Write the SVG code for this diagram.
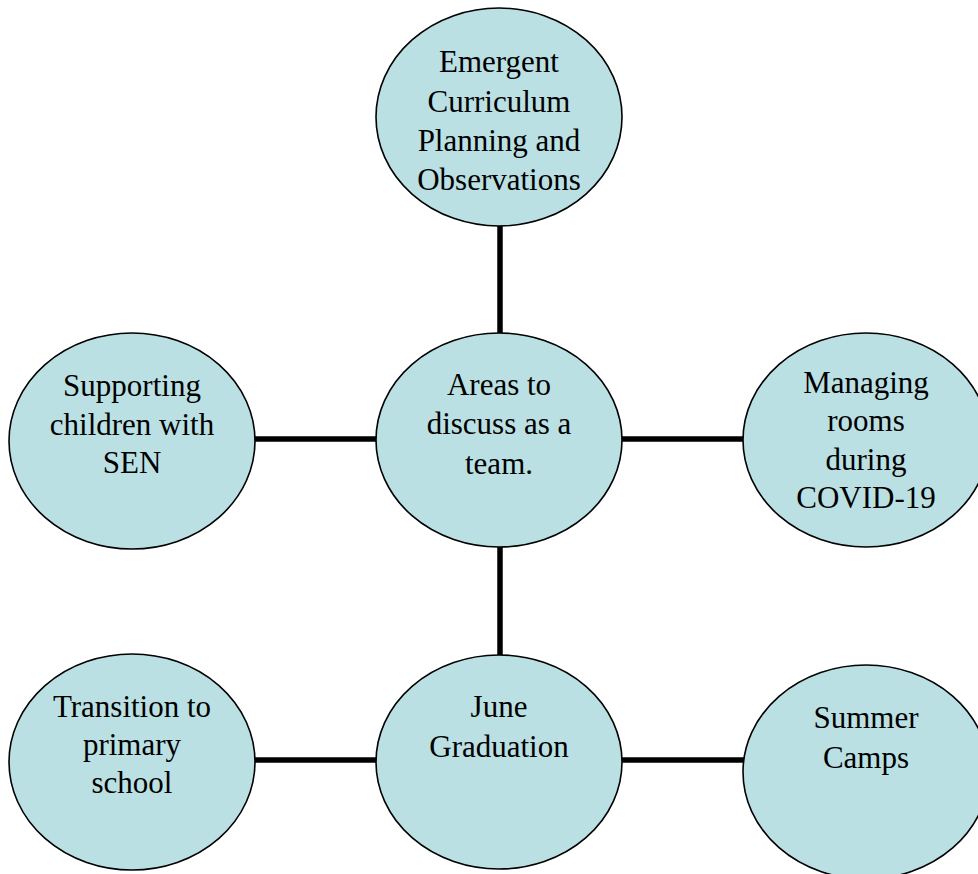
<svg xmlns="http://www.w3.org/2000/svg" width="978" height="874" viewBox="0 0 978 874">
<style>
.n{fill:#bae0e3;stroke:#000;stroke-width:1.6}
.t{font-family:"Liberation Serif","Times New Roman",serif;font-size:31px;fill:#000;text-anchor:middle}
.c{stroke:#000;stroke-width:5.5;fill:none}
</style>
<rect width="978" height="874" fill="#fff"/>
<g id="connectors">
<line class="c" x1="500" y1="225" x2="500" y2="334"/>
<line class="c" x1="255" y1="439" x2="377" y2="439"/>
<line class="c" x1="621" y1="439" x2="744" y2="439"/>
<line class="c" x1="500" y1="546" x2="500" y2="656"/>
<line class="c" x1="255" y1="760" x2="378" y2="760"/>
<line class="c" x1="621" y1="760" x2="745" y2="760"/>
</g>
<g id="node-top">
<ellipse class="n" cx="499" cy="117" rx="123" ry="109"/>
<text class="t" x="499" y="72">Emergent</text>
<text class="t" x="499" y="112">Curriculum</text>
<text class="t" x="499" y="151">Planning and</text>
<text class="t" x="499" y="190">Observations</text>
</g>
<g id="node-center">
<ellipse class="n" cx="499" cy="440" rx="123" ry="107"/>
<text class="t" x="499" y="395">Areas to</text>
<text class="t" x="499" y="434">discuss as a</text>
<text class="t" x="499" y="474">team.</text>
</g>
<g id="node-left">
<ellipse class="n" cx="132" cy="441" rx="123" ry="108"/>
<text class="t" x="132" y="396">Supporting</text>
<text class="t" x="132" y="435">children with</text>
<text class="t" x="132" y="473">SEN</text>
</g>
<g id="node-right">
<ellipse class="n" cx="866" cy="440" rx="123" ry="107"/>
<text class="t" x="866" y="393">Managing</text>
<text class="t" x="866" y="431">rooms</text>
<text class="t" x="866" y="470">during</text>
<text class="t" x="866" y="508">COVID-19</text>
</g>
<g id="node-bottom-left">
<ellipse class="n" cx="132" cy="762" rx="123" ry="108"/>
<text class="t" x="132" y="717">Transition to</text>
<text class="t" x="132" y="755">primary</text>
<text class="t" x="132" y="793">school</text>
</g>
<g id="node-june">
<ellipse class="n" cx="499" cy="762" rx="123" ry="107"/>
<text class="t" x="499" y="717">June</text>
<text class="t" x="499" y="757">Graduation</text>
</g>
<g id="node-summer">
<ellipse class="n" cx="866" cy="772" rx="123" ry="107"/>
<text class="t" x="866" y="728">Summer</text>
<text class="t" x="866" y="768">Camps</text>
</g>
</svg>
